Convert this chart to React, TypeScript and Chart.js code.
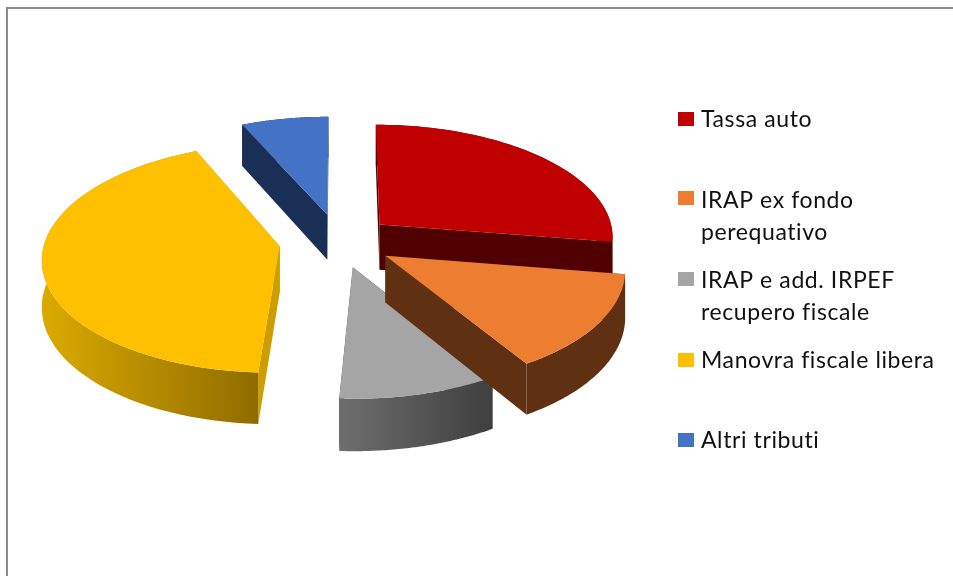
import React, { useEffect, useRef } from "react";
import { Chart, registerables } from "chart.js";

Chart.register(...registerables);

const categories = ["Tassa auto", "IRAP ex fondo perequativo", "IRAP e add. IRPEF recupero fiscale", "Manovra fiscale libera", "Altri tributi"];
const legendLines = [["Tassa auto"], ["IRAP ex fondo", "perequativo"], ["IRAP e add. IRPEF", "recupero fiscale"], ["Manovra fiscale libera"], ["Altri tributi"]];
const shares = [27.5, 13.7, 9.7, 42.4, 6.7];
const explode = [54, 55, 55, 60, 57];
const topColors = ["#C00000", "#ED7D31", "#A5A5A5", "#FFC000", "#4472C4"];
const wallFrom = ["#500000", "#5F3112", "#6E6E6E", "#DBAA00", "#1A2F55"];
const wallTo = ["#500000", "#5F3112", "#3F3F3F", "#8F6C00", "#1A2F55"];
const cutColors = ["#500000", "#5F3112", "#444444", "#CE9E00", "#1A2F55"];
const drawOrder = [4, 0, 3, 2, 1];
const legendSwatchY = [112, 191, 272, 353, 433];
const legendBaselines = [[127], [208, 240], [288, 320], [368], [448]];

const TILT = 0.48;
const PERSPECTIVE = 0.1;
const DEPTH = 46;

const pie3d = {
  id: "pie3d",
  beforeDraw(chart: any) {
    const ctx = chart.ctx;
    ctx.save();
    ctx.fillStyle = "#ffffff";
    ctx.fillRect(0, 0, chart.width, chart.height);
    ctx.strokeStyle = "#8C8C8C";
    ctx.lineWidth = 2;
    ctx.beginPath();
    ctx.moveTo(7, chart.height);
    ctx.lineTo(7, 8);
    ctx.lineTo(chart.width, 8);
    ctx.stroke();
    ctx.restore();
  },
  beforeDatasetsDraw(chart: any) {
    const ctx = chart.ctx;
    const arcs = chart.getDatasetMeta(0).data;
    ctx.save();
    for (const i of drawOrder) {
      const arc = arcs[i];
      const R = arc.outerRadius;
      const mid = (arc.startAngle + arc.endAngle) / 2;
      const off = arc.options.offset;
      const ou = Math.cos(mid) * off;
      const ov = Math.sin(mid) * off;
      const project = (u: number, v: number, h: number) => {
        const s = 1 / (1 - (PERSPECTIVE * v) / R);
        return [arc.x + u * s, arc.y + v * TILT * s + h * DEPTH * s];
      };
      const rim = (h: number) => {
        const pts: number[][] = [];
        const n = 60;
        for (let k = 0; k <= n; k++) {
          const a = arc.startAngle + ((arc.endAngle - arc.startAngle) * k) / n;
          pts.push(project(ou + Math.cos(a) * R, ov + Math.sin(a) * R, h));
        }
        return pts;
      };
      const fillPoly = (pts: number[][], style: any) => {
        ctx.beginPath();
        pts.forEach((p, j) => (j ? ctx.lineTo(p[0], p[1]) : ctx.moveTo(p[0], p[1])));
        ctx.closePath();
        ctx.fillStyle = style;
        ctx.fill();
      };
      const top = rim(0);
      const bottom = rim(1);
      const apexTop = project(ou, ov, 0);
      const apexBottom = project(ou, ov, 1);
      fillPoly([apexTop, top[0], bottom[0], apexBottom], cutColors[i]);
      fillPoly([apexTop, top[top.length - 1], bottom[bottom.length - 1], apexBottom], cutColors[i]);
      const visible = top.filter((p, j) => bottom[j][1] > apexBottom[1]);
      const xs = (visible.length ? visible : top).map((p) => p[0]);
      const grad = ctx.createLinearGradient(Math.min(...xs), 0, Math.max(...xs), 0);
      grad.addColorStop(0, wallFrom[i]);
      grad.addColorStop(1, wallTo[i]);
      fillPoly([...top, ...[...bottom].reverse()], grad);
      fillPoly([apexTop, ...top], arc.options.backgroundColor);
    }
    ctx.restore();
    return false;
  },
  afterDraw(chart: any) {
    const ctx = chart.ctx;
    ctx.save();
    ctx.font = "23px Lato";
    (ctx as any).letterSpacing = "0.6px";
    ctx.textBaseline = "alphabetic";
    legendLines.forEach((lines, i) => {
      ctx.fillStyle = topColors[i];
      ctx.fillRect(678, legendSwatchY[i], 16, 14);
      ctx.fillStyle = "#111111";
      lines.forEach((line, j) => ctx.fillText(line, 701, legendBaselines[i][j]));
    });
    ctx.restore();
  },
};

export default function App() {
  const ref = useRef<HTMLCanvasElement>(null);
  useEffect(() => {
    const chart = new Chart(ref.current!, {
      type: "pie",
      data: {
        labels: categories,
        datasets: [{ data: shares, backgroundColor: topColors, borderWidth: 0, offset: explode, radius: 235 } as any],
      },
      options: {
        animation: false,
        responsive: false,
        layout: { padding: { right: 275, bottom: 94 } },
        plugins: { legend: { display: false }, tooltip: { enabled: false }, title: { display: false } },
      },
      plugins: [pie3d],
    } as any);
    return () => chart.destroy();
  }, []);
  return (
    <div style={{ position: "fixed", left: 0, top: 0, width: 953, height: 576 }}>
      <canvas ref={ref} width={953} height={576} style={{ display: "block" }} />
    </div>
  );
}
